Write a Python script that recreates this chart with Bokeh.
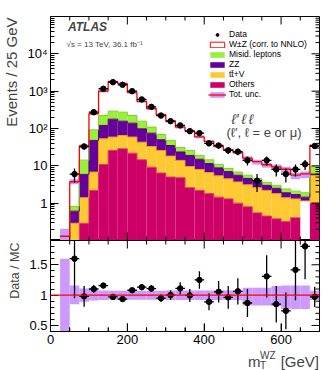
import numpy as np
from math import pi
from bokeh.plotting import figure
from bokeh.layouts import column, row
from bokeh.models import (FixedTicker, Label, Legend, LegendItem, Span, Range1d)
from bokeh.embed import file_html
from bokeh.resources import INLINE

FONT = "Liberation Sans"

# ---- data (25 GeV bins from 25 to 700 GeV, last bin = overflow) ----
bin_lo = [25, 50, 75, 100, 125, 150, 175, 200, 225, 250, 275, 300, 325, 350,
          375, 400, 425, 450, 475, 500, 525, 550, 575, 600, 625, 650, 675]
data = [0, 6, 33, 274, 1160, 1740, 1480, 1000, 600, 380, 222, 157, 121, 85,
        75, 40, 35, 26, 24, 14, 4, 14, 8, 6, 8, 11, 34]
others = [0.125, 0.05, 0.29, 2.2, 10.9, 25.8, 28.7, 21.8, 14.5, 9.2, 6.4, 5.0,
          4.8, 2.6, 2.2, 1.8, 1.45, 1.3, 1.0, 0.8, 0.55, 0.45, 0.38, 0.32,
          0.42, 0.0, 1.0]
ttv = [0.0, 0.24, 1.11, 4.6, 42.1, 33.2, 36.3, 37.2, 28.5, 23.8, 19.4, 13.2,
       9.2, 7.0, 5.8, 4.8, 3.95, 3.2, 2.7, 2.3, 2.05, 1.75, 1.42, 1.08, 0.88,
       1.15, 4.5]
zz = [0.0, 0.32, 4.5, 41.2, 68, 119, 92, 80, 55, 42, 24.2, 16.8, 9.5, 9.4,
      7.0, 4.9, 3.4, 2.5, 1.9, 1.5, 1.2, 0.8, 0.7, 0.5, 0.4, 0.3, 0.5]
misid = [0.0, 0.21, 8.3, 44, 102, 114, 117, 84, 59, 34, 19, 13, 7.5, 6.8, 4.0,
         3.0, 2.2, 1.5, 1.2, 1.0, 0.8, 0.6, 0.5, 0.5, 0.4, 0.45, 3.5]
wz = [0.005, 2.93, 19.5, 157, 780, 1502, 1309, 703, 374, 234, 165, 109, 78,
      59.7, 41, 30.5, 22.2, 18.5, 15.8, 10.5, 8.4, 7.1, 6.4, 5.7, 3.55, 4.2,
      25.5]
unc_up = [0.6, 0.16, 0.11, 0.09, 0.075, 0.07, 0.07, 0.07, 0.07, 0.07, 0.07,
          0.075, 0.075, 0.075, 0.075, 0.075, 0.075, 0.075, 0.075, 0.12, 0.12,
          0.12, 0.15, 0.16, 0.16, 0.16, 0.07]
unc_dn = [0.6, 0.15, 0.11, 0.09, 0.08, 0.075, 0.075, 0.075, 0.075, 0.075,
          0.075, 0.08, 0.08, 0.08, 0.08, 0.08, 0.08, 0.08, 0.08, 0.17, 0.17,
          0.17, 0.18, 0.23, 0.23, 0.23, 0.08]

x_major = [0, 200, 400, 600]
x_minor = [v for v in range(0, 701, 50) if v not in x_major]
y_major = [1, 10, 100, 1000, 10000]
y_minor = [k * 10.0 ** e for e in range(-1, 5) for k in range(2, 10)]
r_major = [0.5, 1.0, 1.5]
r_minor = [0.4, 0.6, 0.7, 0.8, 0.9, 1.1, 1.2, 1.3, 1.4, 1.6, 1.7, 1.8, 1.9]

C_OTH = "#cc0066"
C_TTV = "#ffc933"
C_ZZ = "#660099"
C_MIS = "#99f03a"
C_UNC = "#cc99ff"
C_RED = "#ff0000"

XMIN, XMAX = 0.0, 700.0
YMIN, YMAX = 0.1, 1e5
RMIN, RMAX = 0.4, 1.9
LW = 20                      # left strip (y titles)
W = 332 - LW
BL, BR = 30, 13
FW = W - BL - BR             # frame width (px)
MAIN_TOP, MAIN_FH = 16, 224  # main frame top border / height
R_FH, R_BOT = 91, 17         # ratio frame height / bottom border
XS_H = 370 - (MAIN_TOP + MAIN_FH + R_FH + R_BOT)   # bottom strip (x title)
TMAJ, TMIN = 8, 4            # tick lengths (px)

lo = np.array(bin_lo, float)
hi = lo + 25.0
cen = lo + 12.5
c_oth = np.array(others)
c_ttv = c_oth + np.array(ttv)
c_zz = c_ttv + np.array(zz)
c_mis = c_zz + np.array(misid)
tot = c_mis + np.array(wz)
d = np.array(data, float)
up = np.array(unc_up)
dn = np.array(unc_dn)

px_x = FW / (XMAX - XMIN)                             # px per GeV
px_dec = MAIN_FH / (np.log10(YMAX) - np.log10(YMIN))  # px per decade
px_r = R_FH / (RMAX - RMIN)


def style_axis(ax, size="13px"):
    ax.major_tick_in = TMAJ
    ax.major_tick_out = 0
    ax.minor_tick_in = TMIN
    ax.minor_tick_out = 0
    ax.axis_line_color = "black"
    ax.major_tick_line_color = "black"
    ax.minor_tick_line_color = "black"
    ax.major_label_text_font = FONT
    ax.major_label_text_color = "black"
    ax.major_label_text_font_size = size
    ax.major_label_standoff = 3


def mirror_ticks_x(fig, ylo, yhi, logy, per_px):
    x0, y0, y1 = [], [], []
    for vals, L in ((x_major, TMAJ), (x_minor, TMIN)):
        for v in vals:
            if logy:
                f = 10 ** (L / per_px)
                segs = [(ylo, ylo * f), (yhi / f, yhi)]
            else:
                segs = [(ylo, ylo + L / per_px), (yhi - L / per_px, yhi)]
            for a, b in segs:
                x0.append(v); y0.append(a); y1.append(b)
    fig.segment(x0=x0, x1=x0, y0=y0, y1=y1, line_color="black", line_width=1)


def mirror_ticks_y(fig, majors, minors):
    xs0, ys = [], []
    for vals, L in ((majors, TMAJ), (minors, TMIN)):
        for v in vals:
            xs0.append(XMAX - L / px_x); ys.append(v)
    fig.segment(x0=xs0, x1=[XMAX] * len(xs0), y0=ys, y1=ys, line_color="black",
                line_width=1)


def strip(width, height):
    s = figure(width=width, height=height, x_range=(0, 1), y_range=(0, 1),
               x_axis_location=None, y_axis_location=None,
               output_backend="svg", toolbar_location=None,
               min_border_left=0, min_border_right=0, min_border_top=0,
               min_border_bottom=0)
    s.grid.visible = False
    s.outline_line_color = None
    return s


# ---------------- main panel ----------------
p = figure(width=W, height=MAIN_TOP + MAIN_FH, y_axis_type="log",
           x_range=Range1d(XMIN, XMAX), y_range=Range1d(YMIN, YMAX),
           x_axis_location=None,
           output_backend="svg", toolbar_location=None,
           min_border_left=BL, min_border_right=BR, min_border_top=MAIN_TOP,
           min_border_bottom=0)
p.grid.visible = False
p.outline_line_color = "black"
p.yaxis.ticker = FixedTicker(ticks=y_major, minor_ticks=y_minor)
p.yaxis.major_label_overrides = {1: "1", 10: "10", 100: "10²",
                                 1000: "10³", 10000: "10⁴"}
style_axis(p.yaxis[0])

p.quad(left=lo, right=hi, bottom=1e-3, top=c_oth, fill_color=C_OTH, line_color=None)
p.quad(left=lo, right=hi, bottom=c_oth, top=c_ttv, fill_color=C_TTV, line_color=None)
p.quad(left=lo, right=hi, bottom=c_ttv, top=c_zz, fill_color=C_ZZ, line_color=None)
p.quad(left=lo, right=hi, bottom=c_zz, top=c_mis, fill_color=C_MIS, line_color=None)
p.quad(left=lo, right=hi, bottom=c_mis, top=tot, fill_color="white", line_color=None)

sx = np.append(lo, hi[-1])


def step_line(vals, color, width=1.0):
    return p.step(x=sx, y=np.append(vals, vals[-1]), mode="after",
                  line_color=color, line_width=width)


step_line(c_oth, "#d8336e")
step_line(c_ttv, "#e8a020")
step_line(c_zz, "#55007f")
step_line(c_mis, "#80d020")

p.quad(left=lo, right=hi, bottom=tot * (1 - dn), top=tot * (1 + up),
       fill_color=C_UNC, line_color=None)
step_line(tot, C_RED, 1.3)

mk = d > 0
derr = np.sqrt(d[mk])
p.segment(x0=cen[mk], x1=cen[mk], y0=d[mk] - derr, y1=d[mk] + derr,
          line_color="black", line_width=1.3)
p.segment(x0=lo[mk], x1=hi[mk], y0=d[mk], y1=d[mk], line_color="black",
          line_width=1.3)
dots = p.scatter(x=cen[mk], y=d[mk], size=5.5, fill_color="black",
                 line_color="black")

mirror_ticks_x(p, YMIN, YMAX, True, px_dec)
mirror_ticks_y(p, y_major, y_minor)


def leg_quad(fill, line=None):
    return p.quad(left=[XMIN - 10], right=[XMIN - 5], bottom=[YMIN / 10],
                  top=[YMIN / 5], fill_color=fill, line_color=line,
                  line_width=1)


wz_leg = leg_quad("white", C_RED)
mis_leg = leg_quad(C_MIS)
zz_leg = leg_quad(C_ZZ)
ttv_leg = leg_quad(C_TTV)
oth_leg = leg_quad(C_OTH)
unc_leg = leg_quad(C_UNC)
red_leg = p.line(x=[XMIN - 10, XMIN - 5], y=[YMIN / 10, YMIN / 10],
                 line_color=C_RED, line_width=1.3)

legend = Legend(items=[
    LegendItem(label="Data", renderers=[dots]),
    LegendItem(label="W±Z (corr. to NNLO)", renderers=[wz_leg]),
    LegendItem(label="Misid. leptons", renderers=[mis_leg]),
    LegendItem(label="ZZ", renderers=[zz_leg]),
    LegendItem(label="tt̄+V", renderers=[ttv_leg]),
    LegendItem(label="Others", renderers=[oth_leg]),
    LegendItem(label="Tot. unc.", renderers=[unc_leg, red_leg]),
], location=(158, 141))
legend.background_fill_alpha = 0
legend.border_line_color = None
legend.padding = 0
legend.margin = 0
legend.spacing = 0
legend.glyph_width = 18
legend.glyph_height = 7
legend.label_height = 10
legend.label_standoff = 3
legend.label_text_font = FONT
legend.label_text_font_size = "8.5px"
legend.label_text_color = "black"
p.add_layout(legend, "center")

p.add_layout(Label(x=17.5, y=206.5, x_units="screen", y_units="screen",
                   text="ATLAS", text_font=FONT, text_font_style="bold italic",
                   text_font_size="12px"))
p.add_layout(Label(x=16, y=192, x_units="screen", y_units="screen",
                   text="√s = 13 TeV, 36.1 fb⁻¹", text_font=FONT,
                   text_font_size="8px"))
p.add_layout(Label(x=181, y=114, x_units="screen", y_units="screen",
                   text="ℓ′\u2009ℓ\u2009ℓ", text_font=FONT,
                   text_font_style="italic", text_font_size="14px"))
p.add_layout(Label(x=176, y=100.5, x_units="screen", y_units="screen",
                   text="(ℓ′, ℓ = e or μ)", text_font=FONT,
                   text_font_size="13px"))

# ---------------- ratio panel ----------------
r = figure(width=W, height=R_FH + R_BOT, x_range=p.x_range,
           y_range=Range1d(RMIN, RMAX),
           output_backend="svg", toolbar_location=None,
           min_border_left=BL, min_border_right=BR, min_border_top=0,
           min_border_bottom=R_BOT)
r.grid.visible = False
r.outline_line_color = "black"
r.xaxis.ticker = FixedTicker(ticks=x_major, minor_ticks=x_major + x_minor)
style_axis(r.xaxis[0])
r.yaxis.ticker = FixedTicker(ticks=r_major, minor_ticks=r_minor)
r.yaxis.major_label_overrides = {0.5: "0.5", 1: "1", 1.5: "1.5"}
style_axis(r.yaxis[0])

r.quad(left=lo, right=hi, bottom=1 - dn, top=1 + up, fill_color=C_UNC,
       line_color=None)
r.add_layout(Span(location=1.0, dimension="width", line_color=C_RED,
                  line_width=1.2))
ratio = d / tot
rm = (d > 0) & (ratio > RMIN) & (ratio < RMAX)
rerr = np.sqrt(d[rm]) / tot[rm]
r.segment(x0=cen[rm], x1=cen[rm], y0=ratio[rm] - rerr, y1=ratio[rm] + rerr,
          line_color="black", line_width=1.3)
r.segment(x0=lo[rm], x1=hi[rm], y0=ratio[rm], y1=ratio[rm],
          line_color="black", line_width=1.3)
r.scatter(x=cen[rm], y=ratio[rm], size=5.5, fill_color="black",
          line_color="black")

mirror_ticks_x(r, RMIN, RMAX, False, px_r)
mirror_ticks_y(r, r_major, r_minor)

# ---------------- title strips ----------------
LH = MAIN_TOP + MAIN_FH + R_FH + R_BOT
ls = strip(LW, LH)
ls.add_layout(Label(x=10.5, y=LH - 17, x_units="screen", y_units="screen",
                    text="Events / 25 GeV", angle=pi / 2, text_align="right",
                    text_baseline="middle", text_font=FONT,
                    text_font_size="15px"))
ls.add_layout(Label(x=14, y=LH - 242, x_units="screen", y_units="screen",
                    text="Data / MC", angle=pi / 2, text_align="right",
                    text_baseline="middle", text_font=FONT,
                    text_font_size="12.5px"))

xs = strip(332, XS_H)
xs.add_layout(Label(x=247.5, y=9, x_units="screen", y_units="screen",
                    text="m", text_font=FONT, text_font_size="15px",
                    text_baseline="alphabetic"))
xs.add_layout(Label(x=259.5, y=5.5, x_units="screen", y_units="screen",
                    text="T", text_font=FONT, text_font_size="10px",
                    text_baseline="alphabetic"))
xs.add_layout(Label(x=259.5, y=15, x_units="screen", y_units="screen",
                    text="WZ", text_font=FONT, text_font_size="10px",
                    text_baseline="alphabetic"))
xs.add_layout(Label(x=318.5, y=9, x_units="screen", y_units="screen",
                    text="[GeV]", text_align="right", text_font=FONT,
                    text_font_size="15px", text_baseline="alphabetic"))

layout = column(row(ls, column(p, r, spacing=0), spacing=0), xs, spacing=0)
open("out.html", "w").write(file_html(layout, INLINE))
